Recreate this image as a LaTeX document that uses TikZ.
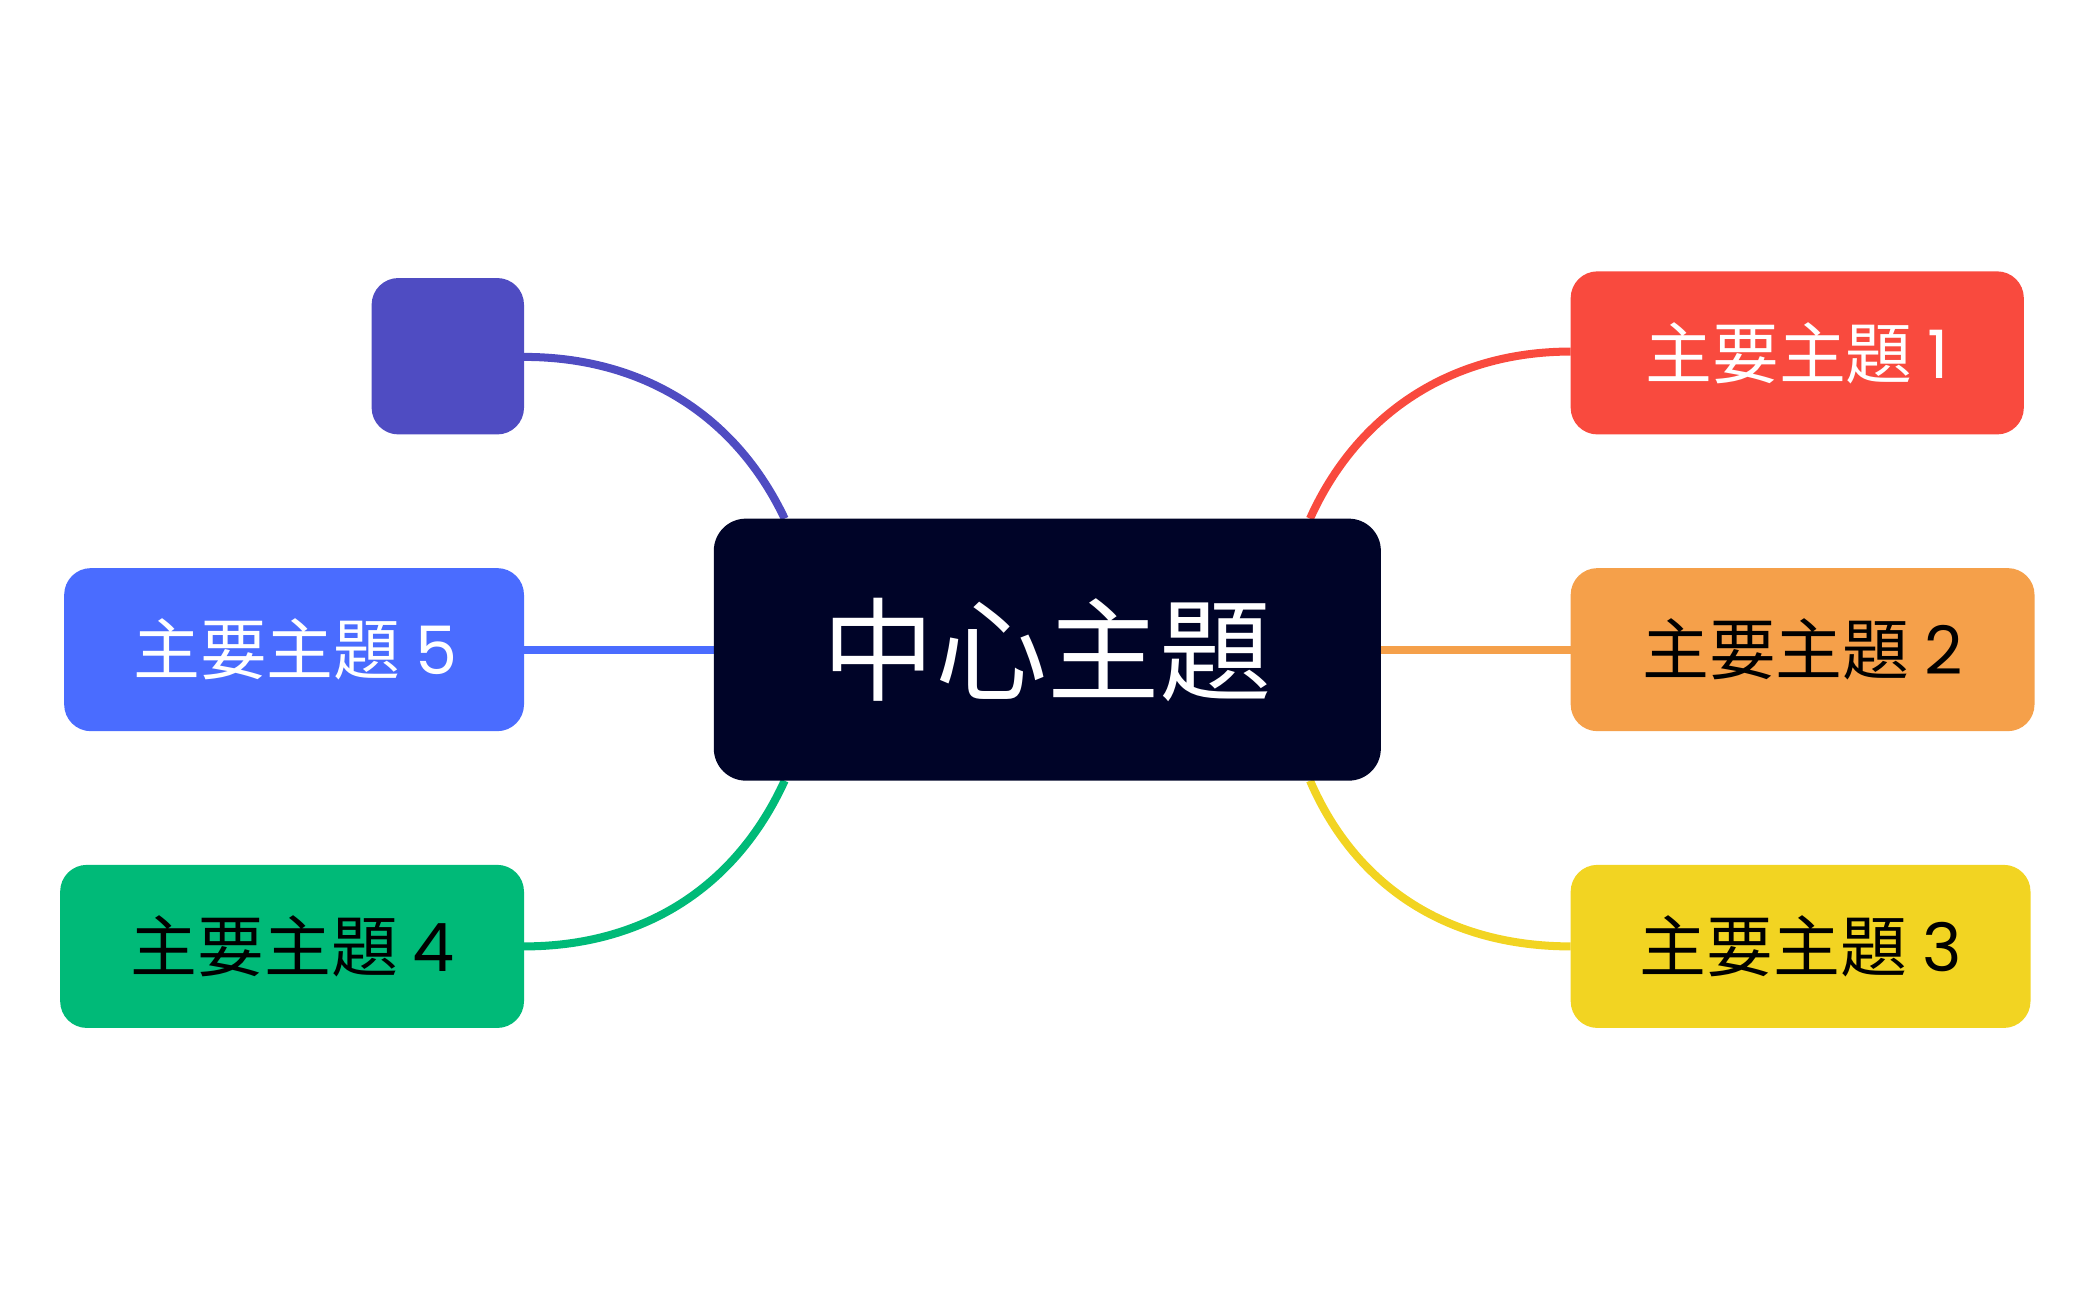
\documentclass[tikz,border=0pt]{standalone}
\usepackage{fontspec}
\newfontfamily\cjk{Noto Sans CJK TC}
\newfontfamily\pop{Poppins}
\definecolor{cnavy}{HTML}{000428}
\definecolor{cred}{HTML}{F94A3E}
\definecolor{corange}{HTML}{F5A04A}
\definecolor{cyellow}{HTML}{F2D422}
\definecolor{cgreen}{HTML}{00BA78}
\definecolor{cblue}{HTML}{4A6CFF}
\definecolor{cpurple}{HTML}{4F4CC2}
\begin{document}
\begin{tikzpicture}[x=0.5pt,y=-0.5pt,
  topic/.style={rounded corners=10pt,inner sep=0pt,font=\cjk\fontsize{25}{30}\selectfont},
  conn/.style={line width=3pt}]
\useasboundingbox (0,0) rectangle (1568,972);
\draw[conn,cpurple] (392,267) .. controls (480,267) and (550,310) .. (587,388);
\draw[conn,cred] (1175,263) .. controls (1085,263) and (1015,310) .. (980,388);
\draw[conn,corange] (1033,486) -- (1175,486);
\draw[conn,cyellow] (1175,708) .. controls (1085,708) and (1015,665) .. (980,584);
\draw[conn,cgreen] (392,708) .. controls (480,708) and (550,665) .. (587,584);
\draw[conn,cblue] (392,486) -- (534,486);
\fill[cnavy,rounded corners=12pt] (534,388) rectangle (1033,584);
\node[font=\cjk\fontsize{42}{50}\selectfont,text=white] (c) at (783.5,486) {中心主題};
\fill[cred,rounded corners=10pt] (1175,203) rectangle (1514,325);
\node[topic,text=white] (t1) at (1344.5,264) {主要主題 {\pop 1}};
\fill[corange,rounded corners=10pt] (1175,425) rectangle (1522,547);
\node[topic,text=black] (t2) at (1348.5,486) {主要主題 {\pop 2}};
\fill[cyellow,rounded corners=10pt] (1175,647) rectangle (1519,769);
\node[topic,text=black] (t3) at (1347,708) {主要主題 {\pop 3}};
\fill[cgreen,rounded corners=10pt] (45,647) rectangle (392,769);
\node[topic,text=black] (t4) at (219,708) {主要主題 {\pop 4}};
\fill[cblue,rounded corners=10pt] (48,425) rectangle (392,547);
\node[topic,text=white] (t5) at (221,486) {主要主題 {\pop 5}};
\fill[cpurple,rounded corners=10pt] (278,208) rectangle (392,325);
\end{tikzpicture}
\end{document}
